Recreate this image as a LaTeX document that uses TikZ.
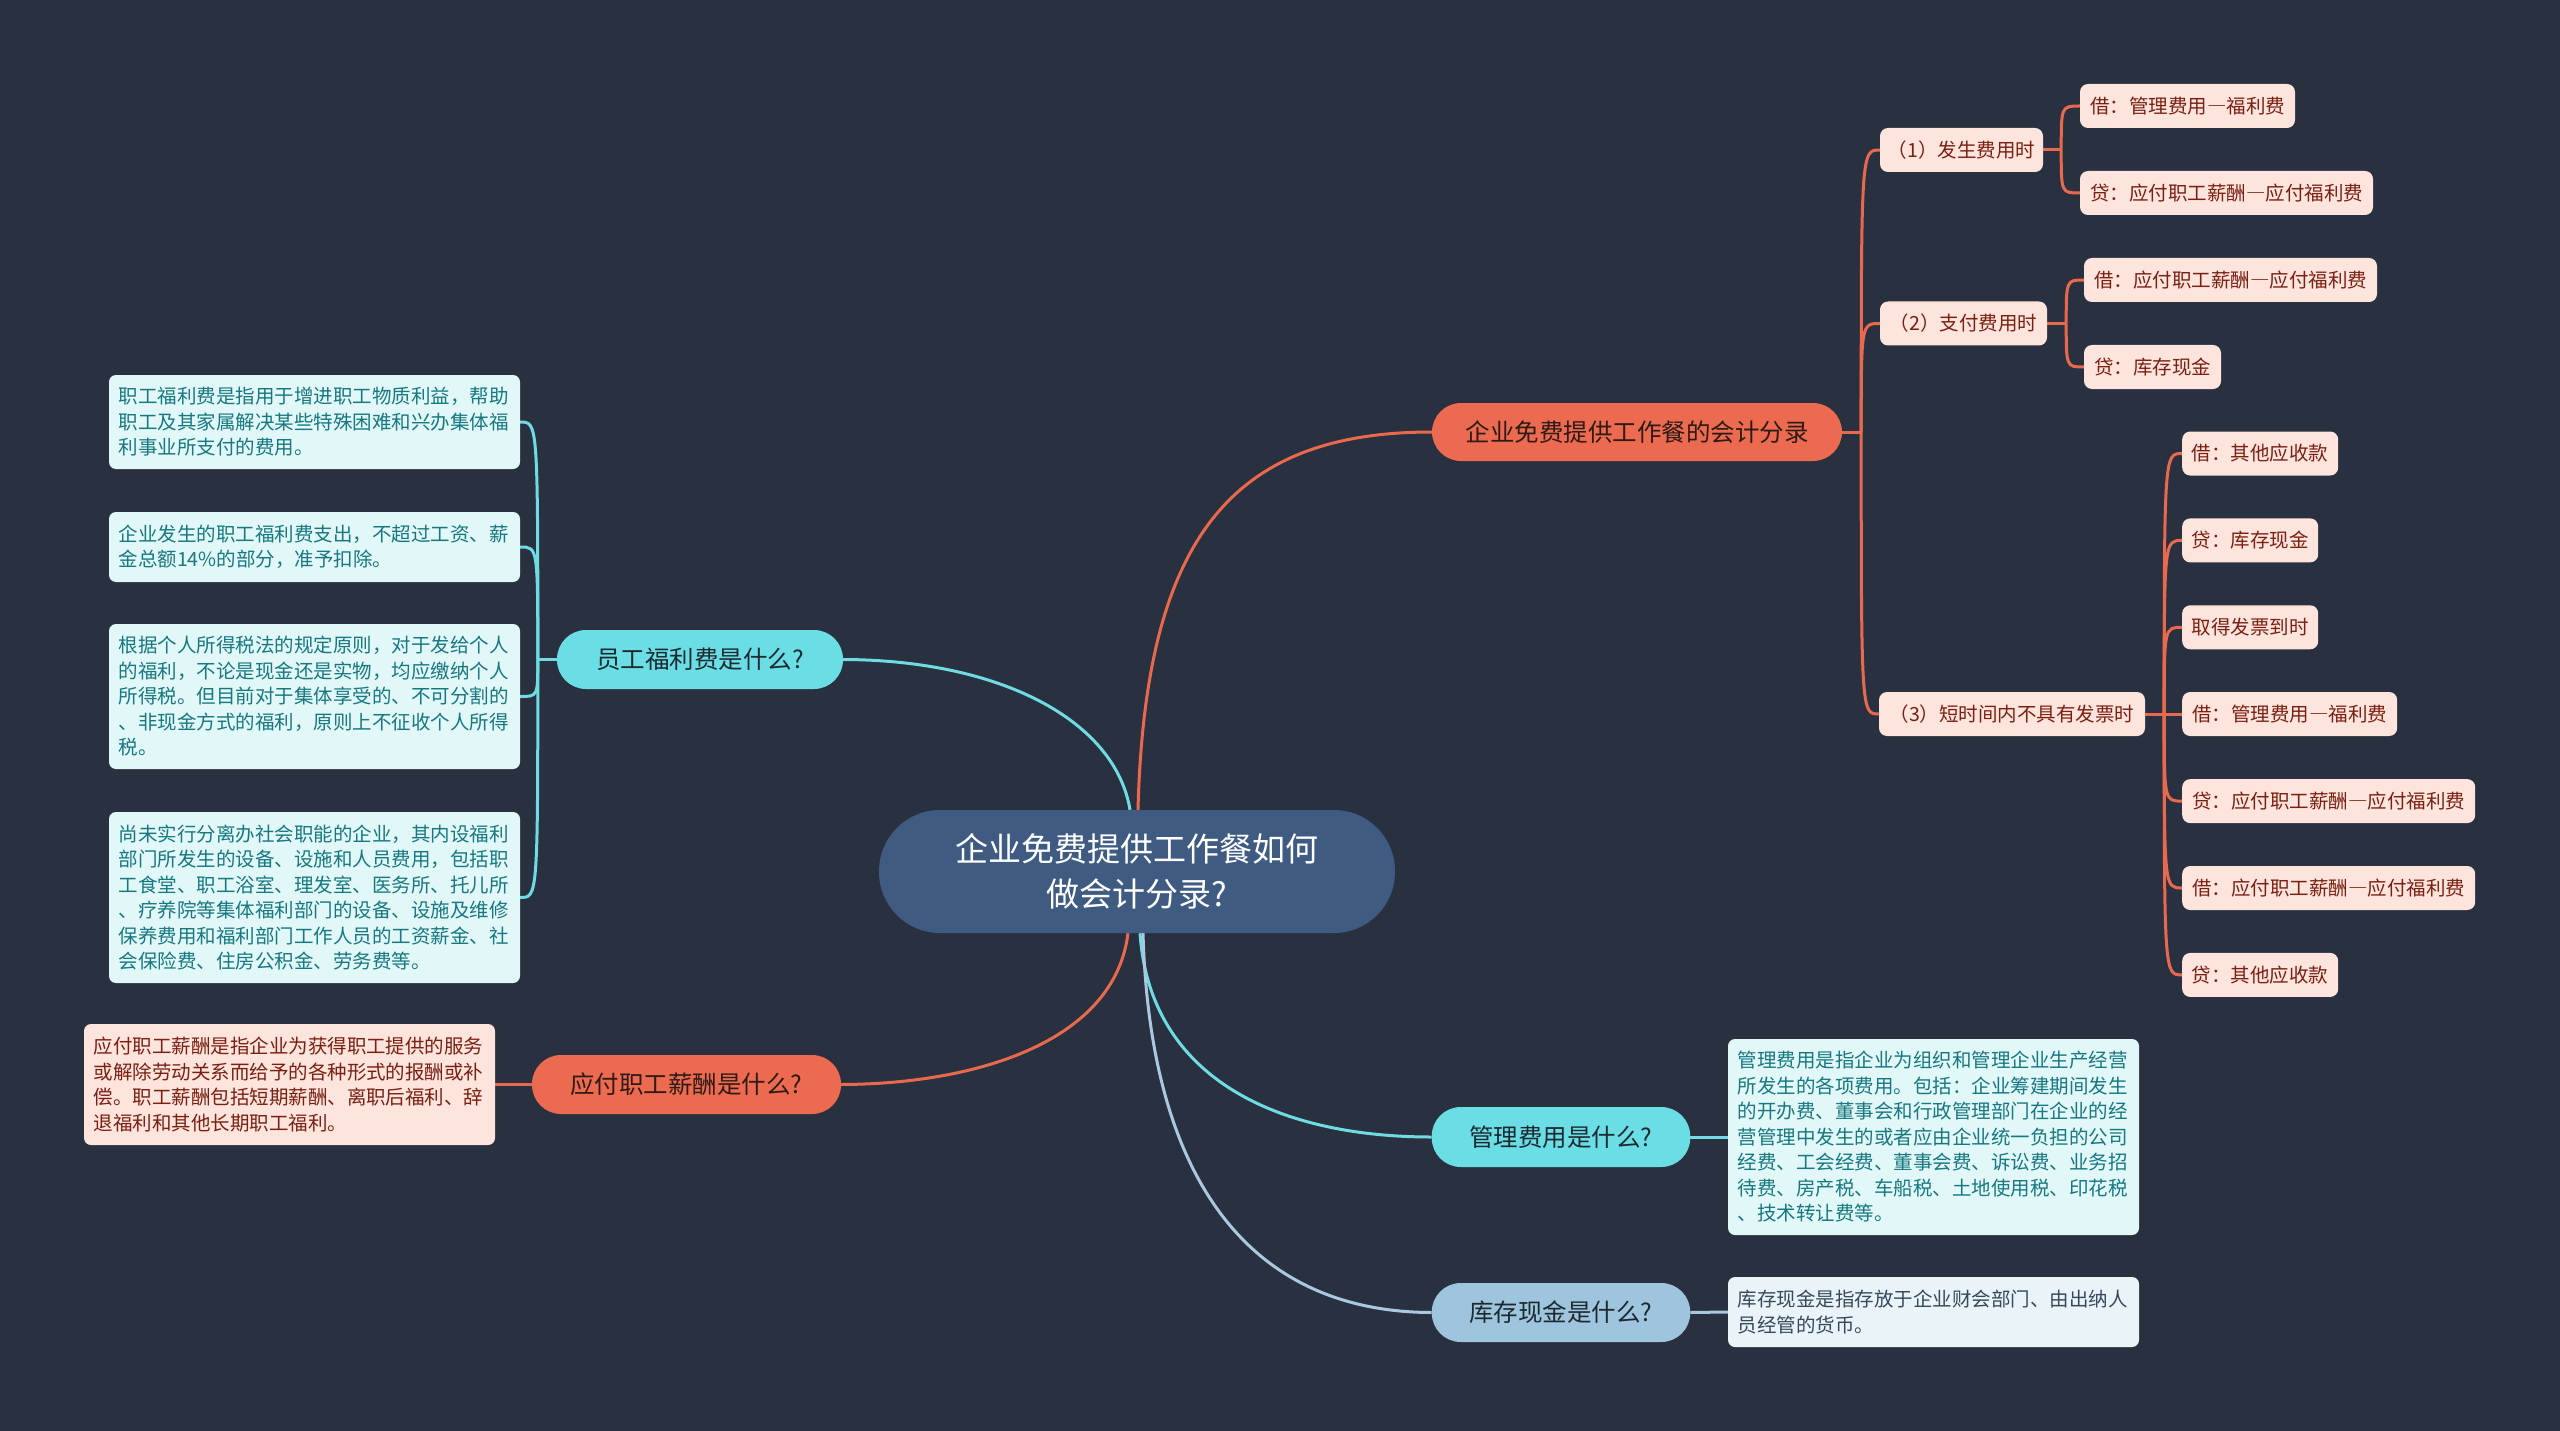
\documentclass[tikz,border=0pt]{standalone}
\usepackage{fontspec}
\setmainfont{Noto Sans CJK SC}
\newcommand{\fwdash}{{\addfontfeatures{RawFeature=+fwid}—}}
\definecolor{bgc}{HTML}{29303F}
\definecolor{ctr}{HTML}{3F5B82}
\definecolor{org}{HTML}{EC6B50}
\definecolor{orgline}{HTML}{E9694E}
\definecolor{pinkf}{HTML}{FDE4DC}
\definecolor{pinktxt}{HTML}{7A2012}
\definecolor{cyn}{HTML}{6BDDE5}
\definecolor{cynline}{HTML}{6FDBE3}
\definecolor{cynbox}{HTML}{E1F7F8}
\definecolor{cyntxt}{HTML}{177880}
\definecolor{lbl}{HTML}{9EC4DE}
\definecolor{lblline}{HTML}{A9C9E0}
\definecolor{lblbox}{HTML}{EAF3F8}
\definecolor{lbltxt}{HTML}{34495A}
\definecolor{darktxt}{HTML}{2E1A16}
\definecolor{cyndark}{HTML}{1C2A30}
\pgfdeclarelayer{bg}
\pgfdeclarelayer{lines}
\pgfsetlayers{bg,lines,main}
\tikzset{
  centre/.style={fill=ctr, text=white, rounded corners=61pt, minimum width=516pt,
    minimum height=123pt, inner sep=0pt, align=center, font=\fontsize{33}{45}\selectfont},
  pill/.style={rounded corners=29pt, minimum height=59pt, inner sep=0pt,
    font=\fontsize{24.5}{29}\selectfont},
  leaf/.style={fill=pinkf, text=pinktxt, rounded corners=8pt, minimum height=44pt,
    inner sep=0pt, font=\fontsize{19.5}{24}\selectfont},
  note/.style={rounded corners=7pt, text width=392pt, align=left, inner xsep=9.5pt,
    inner ysep=0pt, font=\fontsize{19.5}{25.5}\selectfont},
  conn/.style={line width=3pt},
}
\begin{document}
\begin{tikzpicture}[x=1pt,y=-1pt]
\begin{pgfonlayer}{bg}
\fill[bgc] (0,0) rectangle (2560,1431);
\end{pgfonlayer}
\useasboundingbox (0,0) rectangle (2560,1431);

% centre
\node[centre] (c) at (1137,871.5) {企业免费提供工作餐如何\\做会计分录?};

% main topics
\node[pill, fill=org, text=darktxt, minimum width=410pt, minimum height=58pt] (rm) at (1637,432) {企业免费提供工作餐的会计分录};
\node[pill, fill=cyn, text=cyndark, minimum width=286pt] (yg) at (700,659.5) {员工福利费是什么?};
\node[pill, fill=org, text=darktxt, minimum width=309pt] (yf) at (686.5,1084.5) {应付职工薪酬是什么?};
\node[pill, fill=cyn, text=cyndark, minimum width=258.5pt, minimum height=60pt] (gl) at (1561,1137) {管理费用是什么?};
\node[pill, fill=lbl, text=cyndark, minimum width=258.5pt] (kc) at (1561,1312.5) {库存现金是什么?};

% right subtree
\node[leaf, minimum width=163pt] (m1) at (1961.5,150) {（1）发生费用时};
\node[leaf, minimum width=215pt] (a1) at (2187.5,106) {借：管理费用\fwdash 福利费};
\node[leaf, minimum width=293pt] (a2) at (2226.5,193) {贷：应付职工薪酬\fwdash 应付福利费};
\node[leaf, minimum width=167pt] (m2) at (1963.5,323.5) {（2）支付费用时};
\node[leaf, minimum width=293pt] (b1) at (2230.5,280) {借：应付职工薪酬\fwdash 应付福利费};
\node[leaf, minimum width=137pt] (b2) at (2152.5,367) {贷：库存现金};
\node[leaf, minimum width=266pt] (m3) at (2012,714) {（3）短时间内不具有发票时};
\node[leaf, anchor=west, minimum width=156pt] (c1) at (2182,453.5) {借：其他应收款};
\node[leaf, anchor=west, minimum width=136pt] (c2) at (2182,540.4) {贷：库存现金};
\node[leaf, anchor=west, minimum width=136pt] (c3) at (2182,627.3) {取得发票到时};
\node[leaf, anchor=west, minimum width=215pt] (c4) at (2182,714) {借：管理费用\fwdash 福利费};
\node[leaf, anchor=west, minimum width=293pt] (c5) at (2182,801.1) {贷：应付职工薪酬\fwdash 应付福利费};
\node[leaf, anchor=west, minimum width=293pt] (c6) at (2182,888) {借：应付职工薪酬\fwdash 应付福利费};
\node[leaf, anchor=west, minimum width=156pt] (c7) at (2182,974.9) {贷：其他应收款};

% left notes
\node[note, fill=cynbox, text=cyntxt, minimum height=94pt] (L1) at (314.5,422) {职工福利费是指用于增进职工物质利益，帮助\\职工及其家属解决某些特殊困难和兴办集体福\\利事业所支付的费用。};
\node[note, fill=cynbox, text=cyntxt, minimum height=70pt] (L2) at (314.5,547) {企业发生的职工福利费支出，不超过工资、薪\\金总额14\%的部分，准予扣除。};
\node[note, fill=cynbox, text=cyntxt, minimum height=145pt] (L3) at (314.5,696.5) {根据个人所得税法的规定原则，对于发给个人\\的福利，不论是现金还是实物，均应缴纳个人\\所得税。但目前对于集体享受的、不可分割的\\、非现金方式的福利，原则上不征收个人所得\\税。};
\node[note, fill=cynbox, text=cyntxt, minimum height=171pt] (L4) at (314.5,897.5) {尚未实行分离办社会职能的企业，其内设福利\\部门所发生的设备、设施和人员费用，包括职\\工食堂、职工浴室、理发室、医务所、托儿所\\、疗养院等集体福利部门的设备、设施及维修\\保养费用和福利部门工作人员的工资薪金、社\\会保险费、住房公积金、劳务费等。};
\node[note, fill=pinkf, text=pinktxt, minimum height=121pt] (yft) at (289.5,1084.5) {应付职工薪酬是指企业为获得职工提供的服务\\或解除劳动关系而给予的各种形式的报酬或补\\偿。职工薪酬包括短期薪酬、离职后福利、辞\\退福利和其他长期职工福利。};
\node[note, fill=cynbox, text=cyntxt, minimum height=196pt] (glt) at (1933.5,1137) {管理费用是指企业为组织和管理企业生产经营\\所发生的各项费用。包括：企业筹建期间发生\\的开办费、董事会和行政管理部门在企业的经\\营管理中发生的或者应由企业统一负担的公司\\经费、工会经费、董事会费、诉讼费、业务招\\待费、房产税、车船税、土地使用税、印花税\\、技术转让费等。};
\node[note, fill=lblbox, text=lbltxt, minimum height=70pt] (kct) at (1933.5,1312) {库存现金是指存放于企业财会部门、由出纳人\\员经管的货币。};

% junction points
\coordinate (rj) at ([xshift=19pt]rm.east);
\coordinate (j1) at ([xshift=18pt]m1.east);
\coordinate (j2) at ([xshift=19pt]m2.east);
\coordinate (j3) at ([xshift=19pt]m3.east);
\coordinate (lj) at ([xshift=-19pt]yg.west);

\begin{pgfonlayer}{lines}
% centre connectors
\draw[conn, orgline] ([xshift=1pt]c.north) .. controls (1145,540) and (1230,432) .. (rm.west);
\draw[conn, cynline] ([xshift=-7pt]c.north) .. controls (1115,720) and (1000,660) .. (yg.east);
\draw[conn, orgline] ([xshift=-9pt]c.south) .. controls (1115,1040) and (980,1084) .. (yf.east);
\draw[conn, cynline] ([xshift=3pt]c.south) .. controls (1150,1080) and (1280,1137) .. (gl.west);
\draw[conn, lblline] ([xshift=6pt]c.south) .. controls (1150,1180) and (1250,1312) .. (kc.west);
% right tree
\draw[conn, orgline] (rm.east) -- (rj);
\foreach \n in {m1,m2,m3} \draw[conn, orgline] (rj) .. controls (rj |- \n.west) .. (\n.west);
\draw[conn, orgline] (m1.east) -- (j1);
\foreach \n in {a1,a2} \draw[conn, orgline] (j1) .. controls (j1 |- \n.west) .. (\n.west);
\draw[conn, orgline] (m2.east) -- (j2);
\foreach \n in {b1,b2} \draw[conn, orgline] (j2) .. controls (j2 |- \n.west) .. (\n.west);
\draw[conn, orgline] (m3.east) -- (j3);
\foreach \n in {c1,c2,c3,c4,c5,c6,c7} \draw[conn, orgline] (j3) .. controls (j3 |- \n.west) .. (\n.west);
% left tree
\draw[conn, cynline] (yg.west) -- (lj);
\foreach \n in {L1,L2,L3,L4} \draw[conn, cynline] (lj) .. controls (lj |- \n.east) .. (\n.east);
\draw[conn, orgline] (yf.west) -- (yft.east);
\draw[conn, cynline] (gl.east) -- (glt.west);
\draw[conn, lblline] (kc.east) -- (kct.west);
\end{pgfonlayer}
\end{tikzpicture}
\end{document}
